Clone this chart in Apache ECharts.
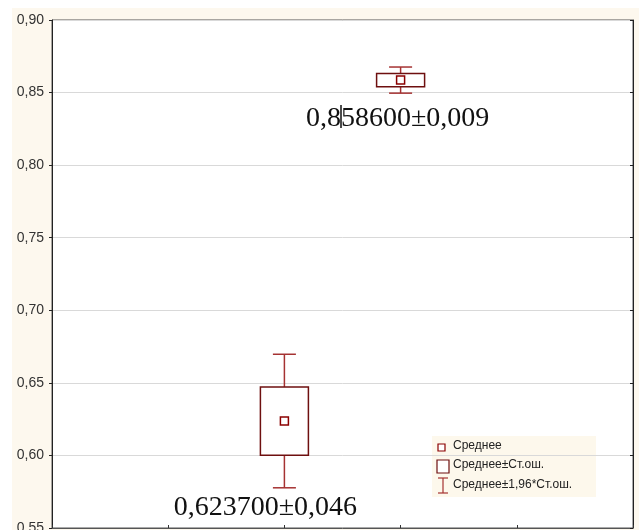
<!DOCTYPE html>
<html><head><meta charset="utf-8">
<script src="https://cdn.jsdelivr.net/npm/echarts@6/dist/echarts.min.js"></script>
<style>html,body{margin:0;padding:0;background:#fff;overflow:hidden}#c{width:639px;height:530px}</style>
</head><body><div id="c"></div>
<script>
// Data
var groupPos = [2, 3];
var means = [0.6237, 0.8586];
var stdErr = [0.0235, 0.0046];
var ci196 = [0.046, 0.009];
var labelTexts = ['0,623700\u00b10,046', '0,858600\u00b10,009'];
var yTicks = [0.55, 0.60, 0.65, 0.70, 0.75, 0.80, 0.85, 0.90];
var legendNames = ['\u0421\u0440\u0435\u0434\u043d\u0435\u0435', '\u0421\u0440\u0435\u0434\u043d\u0435\u0435\u00b1\u0421\u0442.\u043e\u0448.', '\u0421\u0440\u0435\u0434\u043d\u0435\u0435\u00b11,96*\u0421\u0442.\u043e\u0448.'];

var rows = groupPos.map(function (p, i) { return [p, means[i], stdErr[i], ci196[i], i]; });
var labelDx = [-19, -3], labelDy = [20, 25];

var el = document.getElementById('c');
var chart = echarts.init(el, null, { width: 639, height: 530 });
var boxColor = '#6e0f0f', whiskColor = '#a53232', meanColor = '#8b0000';
chart.setOption({
  animation: false,
  backgroundColor: '#ffffff',
  grid: { left: 52, top: 20, right: 6, bottom: 2, show: true, containLabel: false, outerBoundsMode: 'none',
    backgroundColor: '#ffffff', borderColor: '#555', borderWidth: 1 },
  xAxis: { type: 'value', min: 0, max: 5, interval: 1,
    axisLine: { show: true, lineStyle: { color: '#555' } },
    axisTick: { show: true, inside: true, length: 3, lineStyle: { color: '#333' } },
    axisLabel: { show: false }, splitLine: { show: false } },
  yAxis: [{ type: 'value', min: 0.55, max: 0.9, interval: 0.05,
    axisLine: { show: true, lineStyle: { color: '#222' } },
    axisTick: { show: true, length: 3, lineStyle: { color: '#222' } },
    axisLabel: { margin: 8, color: '#333', fontFamily: 'Liberation Sans, Arial', fontSize: 14,
      formatter: function (v) { return v.toFixed(2).replace('.', ','); } },
    splitLine: { show: true, lineStyle: { color: '#d9d9d9' } } },
    { type: 'value', min: 0.55, max: 0.9, interval: 0.05, position: 'right',
    axisLine: { show: true, lineStyle: { color: '#222' } },
    axisTick: { show: true, inside: true, length: 3, lineStyle: { color: '#222' } },
    axisLabel: { show: false }, splitLine: { show: false } }],
  series: [{
    type: 'custom',
    data: rows,
    encode: { x: 0, y: 1 },
    clip: false,
    renderItem: function (params, api) {
      var x = api.value(0), m = api.value(1), se = api.value(2), ci = api.value(3), idx = api.value(4);
      var c = api.coord([x, m]);
      var top = api.coord([x, m + se])[1], bot = api.coord([x, m - se])[1];
      var wt = api.coord([x, m + ci])[1], wb = api.coord([x, m - ci])[1];
      var bw = 24, cw = 11.5;
      return { type: 'group', children: [
        { type: 'line', shape: { x1: c[0], y1: wt, x2: c[0], y2: top }, style: { stroke: whiskColor, lineWidth: 1.5 } },
        { type: 'line', shape: { x1: c[0], y1: bot, x2: c[0], y2: wb }, style: { stroke: whiskColor, lineWidth: 1.5 } },
        { type: 'line', shape: { x1: c[0] - cw, y1: wt, x2: c[0] + cw, y2: wt }, style: { stroke: whiskColor, lineWidth: 1.5 } },
        { type: 'line', shape: { x1: c[0] - cw, y1: wb, x2: c[0] + cw, y2: wb }, style: { stroke: whiskColor, lineWidth: 1.5 } },
        { type: 'rect', shape: { x: c[0] - bw, y: top, width: 2 * bw, height: bot - top }, style: { fill: '#ffffff', stroke: boxColor, lineWidth: 1.5 } },
        { type: 'rect', shape: { x: c[0] - 4, y: c[1] - 4, width: 8, height: 8 }, style: { fill: '#ffffff', stroke: meanColor, lineWidth: 1.5 } },
        { type: 'text', x: c[0] + labelDx[idx], y: wb + labelDy[idx], style: { text: labelTexts[idx], fill: '#111', font: '28px "Liberation Serif", "Times New Roman", serif', textAlign: 'center', textVerticalAlign: 'middle' } }
      ] };
    }
  }],
  graphic: [
    { type: 'rect', z: -10, shape: { x: 12, y: 8, width: 627, height: 522 }, style: { fill: '#fdf8ee' } },
    { type: 'line', z: 100, shape: { x1: 341, y1: 105, x2: 341, y2: 128 }, style: { stroke: '#111', lineWidth: 1.5 } },
    { type: 'group', z: 100, children: [
      { type: 'rect', shape: { x: 432, y: 436, width: 164, height: 61 }, style: { fill: '#fdf8ec' } },
      { type: 'rect', shape: { x: 438, y: 444, width: 7, height: 7 }, style: { fill: '#fff', stroke: meanColor, lineWidth: 1.2 } },
      { type: 'text', x: 453, y: 446, style: { text: legendNames[0], fill: '#222', font: '12px "Liberation Sans", Arial, sans-serif', textVerticalAlign: 'middle' } },
      { type: 'rect', shape: { x: 437, y: 460, width: 12, height: 13 }, style: { fill: '#fff', stroke: boxColor, lineWidth: 1.2 } },
      { type: 'text', x: 453, y: 465, style: { text: legendNames[1], fill: '#222', font: '12px "Liberation Sans", Arial, sans-serif', textVerticalAlign: 'middle' } },
      { type: 'line', shape: { x1: 443, y1: 478, x2: 443, y2: 493 }, style: { stroke: whiskColor, lineWidth: 1.2 } },
      { type: 'line', shape: { x1: 438, y1: 478, x2: 448, y2: 478 }, style: { stroke: whiskColor, lineWidth: 1.2 } },
      { type: 'line', shape: { x1: 438, y1: 493, x2: 448, y2: 493 }, style: { stroke: whiskColor, lineWidth: 1.2 } },
      { type: 'text', x: 453, y: 485, style: { text: legendNames[2], fill: '#222', font: '12px "Liberation Sans", Arial, sans-serif', textVerticalAlign: 'middle' } }
    ] }
  ]
});
</script></body></html>
